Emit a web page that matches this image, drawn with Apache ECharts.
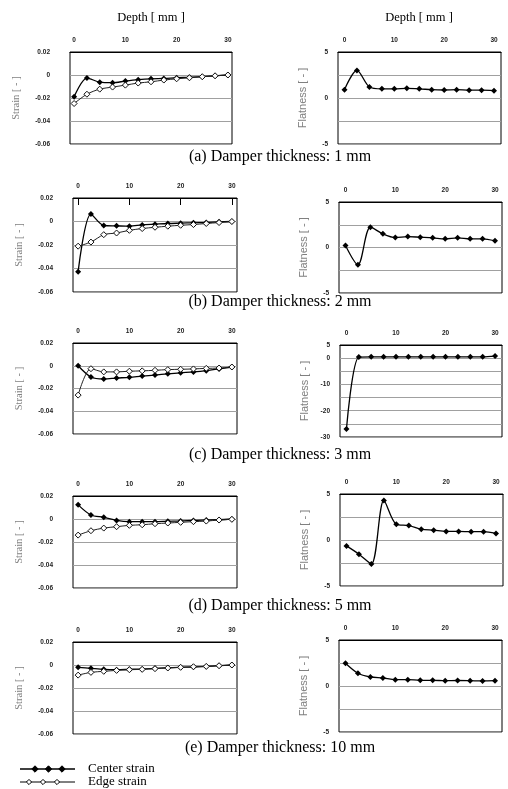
<!DOCTYPE html>
<html>
<head>
<meta charset="utf-8">
<script src="https://cdn.jsdelivr.net/npm/echarts@6/dist/echarts.min.js"></script>
<style>html,body{margin:0;padding:0;background:#fff;}#c{width:508px;height:789px;}</style>
</head>
<body>
<div id="c"></div>
<script>
// ---- data ----
const depth = [0, 2.5, 5, 7.5, 10, 12.5, 15, 17.5, 20, 22.5, 25, 27.5, 30];
const xTicks = [0, 10, 20, 30];

const centerA = [-0.019, -0.0027, -0.0062, -0.0067, -0.0053, -0.0041, -0.0033, -0.003, -0.0024, -0.002, -0.0015, -0.0007, 0];
const edgeA   = [-0.0248, -0.0167, -0.0123, -0.0105, -0.0088, -0.007, -0.0059, -0.0044, -0.0033, -0.0024, -0.0015, -0.0007, 0];
const flatA   = [0.9, 3.0, 1.2, 1.0, 1.0, 1.05, 1.0, 0.9, 0.87, 0.9, 0.85, 0.85, 0.8];

const centerB = [-0.0427, 0.0063, -0.0034, -0.0037, -0.004, -0.0029, -0.0023, -0.0017, -0.0014, -0.0011, -0.0009, -0.0003, 0];
const edgeB   = [-0.021, -0.0175, -0.0112, -0.0098, -0.0075, -0.006, -0.0049, -0.004, -0.0032, -0.0026, -0.0017, -0.0009, 0];
const flatB   = [0.22, -1.9, 2.23, 1.5, 1.1, 1.2, 1.13, 1.06, 0.95, 1.06, 0.95, 0.95, 0.73];

const centerC = [0, -0.0099, -0.0116, -0.0108, -0.0102, -0.0091, -0.0082, -0.0071, -0.0062, -0.0054, -0.0043, -0.0028, -0.0011];
const edgeC   = [-0.0258, -0.0026, -0.0054, -0.0054, -0.0048, -0.0045, -0.004, -0.0034, -0.0031, -0.0028, -0.0023, -0.002, -0.0011];
const flatC   = [-27, 0.4, 0.5, 0.5, 0.5, 0.5, 0.5, 0.5, 0.5, 0.5, 0.5, 0.5, 0.8];

const centerD = [0.0123, 0.0035, 0.0015, -0.0012, -0.0023, -0.0023, -0.0023, -0.002, -0.0018, -0.0012, -0.0009, -0.0006, 0];
const edgeD   = [-0.014, -0.0102, -0.0079, -0.0067, -0.0055, -0.005, -0.0041, -0.0035, -0.0029, -0.0023, -0.0018, -0.0009, -0.0003];
const flatD   = [-0.64, -1.54, -2.6, 4.3, 1.7, 1.57, 1.18, 1.07, 0.93, 0.93, 0.9, 0.9, 0.71];

const centerE = [-0.002, -0.0029, -0.0038, -0.0041, -0.0038, -0.0035, -0.0029, -0.0023, -0.002, -0.0018, -0.0012, -0.0006, 0];
const edgeE   = [-0.0088, -0.0064, -0.0055, -0.0047, -0.0041, -0.0038, -0.0032, -0.0026, -0.002, -0.0015, -0.0012, -0.0006, 0];
const flatE   = [2.47, 1.38, 0.98, 0.87, 0.69, 0.69, 0.62, 0.62, 0.58, 0.6, 0.58, 0.55, 0.58];

const captions = ['(a) Damper thickness: 1 mm', '(b) Damper thickness: 2 mm', '(c) Damper thickness: 3 mm',
                  '(d) Damper thickness: 5 mm', '(e) Damper thickness: 10 mm'];
const centerName = 'Center strain';
const edgeName = 'Edge strain';

// ---- layout ----
const panels = [
  {c: centerA, e: edgeA, f: flatA, L: [70, 52, 162, 92],  R: [338, 52, 163, 92],  xl: [-0.8, 30.8], fy: [-5, 5, 2.5],  cap: 149},
  {c: centerB, e: edgeB, f: flatB, L: [73, 198, 164, 94], R: [339, 202, 163, 91], xl: [-1, 31],     fy: [-5, 5, 2.5],  cap: 294, ticks: true},
  {c: centerC, e: edgeC, f: flatC, L: [73, 343, 164, 91], R: [340, 345, 162, 92], xl: [-1, 31],     fy: [-30, 5, 5],   cap: 447},
  {c: centerD, e: edgeD, f: flatD, L: [73, 496, 164, 92], R: [340, 494, 163, 92], xl: [-1, 31],     fy: [-5, 5, 2.5],  cap: 598},
  {c: centerE, e: edgeE, f: flatE, L: [73, 642, 164, 92], R: [339, 640, 163, 92], xl: [-1, 31],     fy: [-5, 5, 2.5],  cap: 740}
];

const grid = [], xAxis = [], yAxis = [], series = [], title = [];
const tickFont = {fontSize: 6.5, fontWeight: 'bold', color: '#222', fontFamily: 'Liberation Sans'};
const pair = (arr) => depth.map((d, i) => [d, arr[i]]);

panels.forEach((p, k) => {
  [p.L, p.R].forEach((g, j) => {
    const idx = k * 2 + j;
    grid.push({left: g[0], top: g[1], width: g[2], height: g[3], show: true, borderColor: '#000', borderWidth: 1, backgroundColor: 'transparent'});
    const isStrain = j === 0;
    xAxis.push({
      type: 'value', gridIndex: idx, position: 'top',
      min: isStrain ? p.xl[0] : -1.3, max: isStrain ? p.xl[1] : 31.4,
      axisLine: {show: true, onZero: false, lineStyle: {color: '#000', width: 1}},
      axisTick: {show: !!(p.ticks && isStrain), inside: true, length: 7, lineStyle: {color: '#000'}, customValues: xTicks},
      axisLabel: Object.assign({customValues: xTicks, margin: 8}, tickFont),
      splitLine: {show: false}
    });
    if (isStrain) {
      yAxis.push({
        type: 'value', gridIndex: idx, min: -0.06, max: 0.02, interval: 0.02,
        name: 'Strain [ - ]', nameLocation: 'middle', nameGap: 48, nameRotate: 90,
        nameTextStyle: {fontFamily: 'Liberation Serif', fontSize: 10.5, color: '#808080'},
        axisLine: {show: false}, axisTick: {show: false},
        axisLabel: Object.assign({margin: 20}, tickFont),
        splitLine: {show: true, lineStyle: {color: '#a0a0a0', width: 1}}
      });
    } else {
      const fy = p.fy;
      yAxis.push({
        type: 'value', gridIndex: idx, min: fy[0], max: fy[1], interval: fy[2],
        name: 'Flatness [ - ]', nameLocation: 'middle', nameGap: 30, nameRotate: 90,
        nameTextStyle: {fontFamily: 'Liberation Sans', fontSize: 11, color: '#808080'},
        axisLine: {show: false}, axisTick: {show: false},
        axisLabel: Object.assign({margin: 10, formatter: v => {
          if (fy[2] === 2.5) return (v % 5 === 0) ? String(v) : '';
          return (v === 5 || v % 10 === 0) ? String(v) : '';
        }}, tickFont),
        splitLine: {show: true, lineStyle: {color: '#a0a0a0', width: 1}}
      });
    }
  });
  const li = k * 2, ri = k * 2 + 1;
  series.push({
    name: edgeName, type: 'line', xAxisIndex: li, yAxisIndex: li, data: pair(p.e), smooth: 0.3,
    symbol: 'diamond', symbolSize: 6, showAllSymbol: true,
    lineStyle: {color: '#222', width: 1}, itemStyle: {color: '#fff', borderColor: '#111', borderWidth: 1}, z: 3
  });
  series.push({
    name: centerName, type: 'line', xAxisIndex: li, yAxisIndex: li, data: pair(p.c), smooth: 0.3,
    symbol: 'diamond', symbolSize: 6, showAllSymbol: true,
    lineStyle: {color: '#000', width: 1.3}, itemStyle: {color: '#000'}, z: 2
  });
  series.push({
    name: 'Flatness', type: 'line', xAxisIndex: ri, yAxisIndex: ri, data: pair(p.f), smooth: 0.3,
    symbol: 'diamond', symbolSize: 6, showAllSymbol: true,
    lineStyle: {color: '#000', width: 1.3}, itemStyle: {color: '#000'}
  });
  title.push({text: captions[k], left: 280, top: p.cap, textAlign: 'center', padding: 0,
    textStyle: {fontFamily: 'Liberation Serif', fontSize: 16, fontWeight: 'normal', color: '#000'}});
});

title.push({text: 'Depth [ mm ]', left: 151, top: 11, textAlign: 'center', padding: 0,
  textStyle: {fontFamily: 'Liberation Serif', fontSize: 12.5, fontWeight: 'normal', color: '#000'}});
title.push({text: 'Depth [ mm ]', left: 419, top: 11, textAlign: 'center', padding: 0,
  textStyle: {fontFamily: 'Liberation Serif', fontSize: 12.5, fontWeight: 'normal', color: '#000'}});

function diamond(cx, cy, r, filled) {
  return {type: 'polygon', shape: {points: [[cx, cy - r], [cx + r, cy], [cx, cy + r], [cx - r, cy]]},
    style: {fill: filled ? '#000' : '#fff', stroke: '#000', lineWidth: 1}, z: 101};
}
const graphic = [
  {type: 'line', shape: {x1: 20, y1: 769, x2: 75, y2: 769}, style: {stroke: '#000', lineWidth: 1.3}, z: 100},
  diamond(35, 769, 3.2, true), diamond(48.5, 769, 3.2, true), diamond(62, 769, 3.2, true),
  {type: 'text', left: 88, top: 762, style: {text: centerName, font: '13px "Liberation Serif"', fill: '#000'}},
  {type: 'line', shape: {x1: 20, y1: 782, x2: 75, y2: 782}, style: {stroke: '#000', lineWidth: 1}, z: 100},
  diamond(29, 782, 2.6, false), diamond(43, 782, 2.6, false), diamond(57, 782, 2.6, false),
  {type: 'text', left: 88, top: 775, style: {text: edgeName, font: '13px "Liberation Serif"', fill: '#000'}}
];

const chart = echarts.init(document.getElementById('c'), null, {renderer: 'canvas'});
chart.setOption({animation: false, backgroundColor: '#fff', title, grid, xAxis, yAxis, series, graphic});
</script>
</body>
</html>
